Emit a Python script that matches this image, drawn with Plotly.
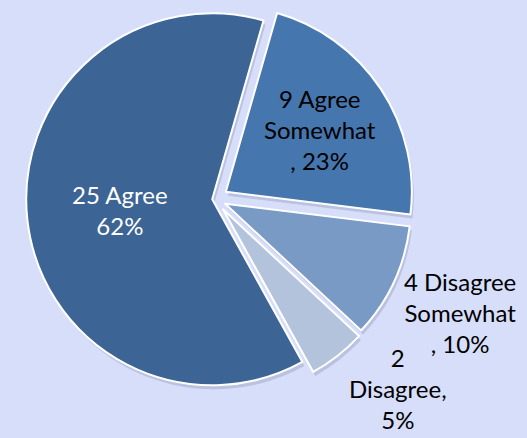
import plotly.graph_objects as go

# Data
categories = ["Agree", "Agree Somewhat", "Disagree Somewhat", "Disagree"]
counts = [25, 9, 4, 2]
percent_labels = ["62%", "23%", "10%", "5%"]
# how each data label is wrapped in the original chart
label_templates = [
    "{n} {c}<br>{p}",
    "{n} Agree<br>Somewhat<br>, {p}",
    "{n} Disagree<br>Somewhat<br>, {p}",
    "{n}<br>Disagree,<br>{p}",
]

colors = ["#3C6494", "#4676AE", "#7A9AC6", "#B4C3DC"]
pulls = [0.015, 0.07, 0.06, 0.07]
text_colors = ["white", "black", "black", "black"]
inside = [True, True, False, False]

texts = [t.format(n=n, c=c, p=p) for t, n, c, p in zip(label_templates, counts, categories, percent_labels)]

W, H = 527, 438
cx, cy, half = 215, 199, 199   # pie box centre / half size in px
FONT = "Lato"

def dom(dx=0, dy=0):
    return dict(
        x=[(cx - half + dx) / W, (cx + half + dx) / W],
        y=[1 - (cy + half + dy) / H, 1 - (cy - half + dy) / H],
    )

fig = go.Figure()

# soft drop shadow (same pie, offset and translucent)
fig.add_trace(
    go.Pie(
        labels=categories,
        values=counts,
        textinfo="none",
        marker=dict(colors=["rgba(90,95,130,0.22)"] * len(counts), line=dict(width=0)),
        pull=pulls,
        sort=False,
        direction="clockwise",
        rotation=151,
        automargin=False,
        hoverinfo="skip",
        domain=dom(2, 4),
    )
)

fig.add_trace(
    go.Pie(
        labels=categories,
        values=counts,
        text=[t if i else "" for t, i in zip(texts, inside)],
        textinfo="text",
        textposition=["inside" if i else "none" for i in inside],
        textfont=dict(family=FONT, size=24, color=text_colors),
        insidetextorientation="horizontal",
        marker=dict(colors=colors, line=dict(color="white", width=2)),
        pull=pulls,
        sort=False,
        direction="clockwise",
        rotation=151,
        automargin=False,
        hoverinfo="skip",
        domain=dom(),
    )
)

# outside data labels of the two small slices
outside_pos = {2: (460, 312), 3: (398, 388)}
for idx, (px, py) in outside_pos.items():
    fig.add_annotation(
        x=px / W, y=1 - py / H, xref="paper", yref="paper",
        text=texts[idx], showarrow=False, align="center",
        xanchor="center", yanchor="middle",
        font=dict(family=FONT, size=24, color="black"),
    )

fig.update_layout(
    width=W,
    height=H,
    margin=dict(l=0, r=0, t=0, b=0, autoexpand=False),
    paper_bgcolor="#D6DEFA",
    plot_bgcolor="#D6DEFA",
    showlegend=False,
    uniformtext=dict(minsize=24, mode="show"),
)

fig.write_html(
    "out.html",
    config={"responsive": False, "displayModeBar": False},
    post_script="document.body.style.margin='0';document.body.style.overflow='hidden';",
)
